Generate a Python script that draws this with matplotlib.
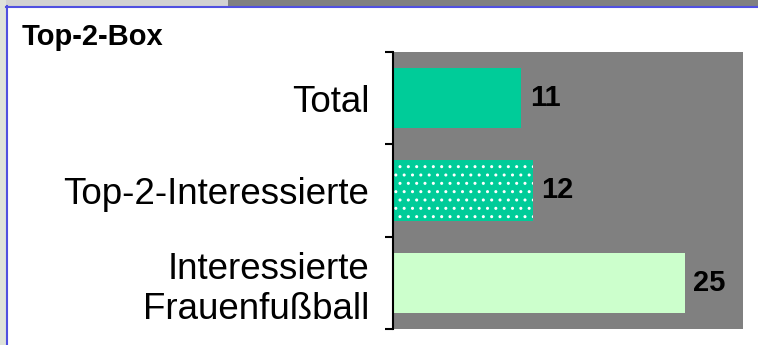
import matplotlib.pyplot as plt
import matplotlib.patches as patches

plt.rcParams['font.family'] = ['Liberation Sans', 'DejaVu Sans']

# data
categories = ["Total", "Top-2-Interessierte", "Interessierte\nFrauenfußball"]
values = [11, 12, 25]
bar_colors = ["#00CC99", "#00CC99", "#CCFFCC"]
hatches = [None, "..", None]

W, H = 758, 345
fig = plt.figure(figsize=(W / 100, H / 100), dpi=100)
fig.patch.set_facecolor("white")

# slide-like frame around the chart
fig.add_artist(patches.Rectangle((0, 1 - 6 / H), 228 / W, 6 / H, transform=fig.transFigure,
                                 facecolor="#d2d2d2", edgecolor="none"))
fig.add_artist(patches.Rectangle((228 / W, 1 - 6 / H), 1, 6 / H, transform=fig.transFigure,
                                 facecolor="#808080", edgecolor="none"))
fig.add_artist(patches.Rectangle((0, 0), 6 / W, 1, transform=fig.transFigure,
                                 facecolor="#dfe3da", edgecolor="none"))
fig.add_artist(plt.Line2D([6.5 / W, 6.5 / W], [0, 1 - 6 / H], transform=fig.transFigure,
                          color="#5050e0", lw=1.5))
fig.add_artist(plt.Line2D([6 / W, 1], [1 - 6.5 / H, 1 - 6.5 / H], transform=fig.transFigure,
                          color="#5050e0", lw=1.5))

fig.text(22 / W, 1 - 45 / H, "Top-2-Box", fontsize=21, fontweight="bold", va="baseline", ha="left")

ax = fig.add_axes([393 / W, 1 - 329 / H, (743 - 393) / W, (329 - 52) / H])
ax.set_facecolor("#808080")

ypos = list(range(len(categories)))
bars = ax.barh(ypos, values, height=0.65, color=bar_colors, edgecolor="white", linewidth=0)
for b, h in zip(bars, hatches):
    if h:
        b.set_hatch(h)

for y, v in zip(ypos, values):
    ax.annotate(str(v), xy=(v, y), xytext=(6, 0), textcoords="offset points",
                ha="left", va="center", fontsize=21, fontweight="bold")

ax.set_xlim(0, 30)
ax.set_ylim(len(categories) - 0.5, -0.5)
ax.set_xticks([])
ax.set_yticks(ypos)
ax.set_yticklabels(categories, fontsize=26.5, multialignment="right")
ax.set_yticks([i - 0.5 for i in range(len(categories) + 1)], minor=True)
ax.tick_params(axis="y", which="major", length=0, pad=17)
ax.tick_params(axis="y", which="minor", length=6, width=1.5, direction="out")

for s in ["top", "right", "bottom"]:
    ax.spines[s].set_visible(False)
ax.spines["left"].set_linewidth(1.5)

fig.savefig("out.png", dpi=100)
